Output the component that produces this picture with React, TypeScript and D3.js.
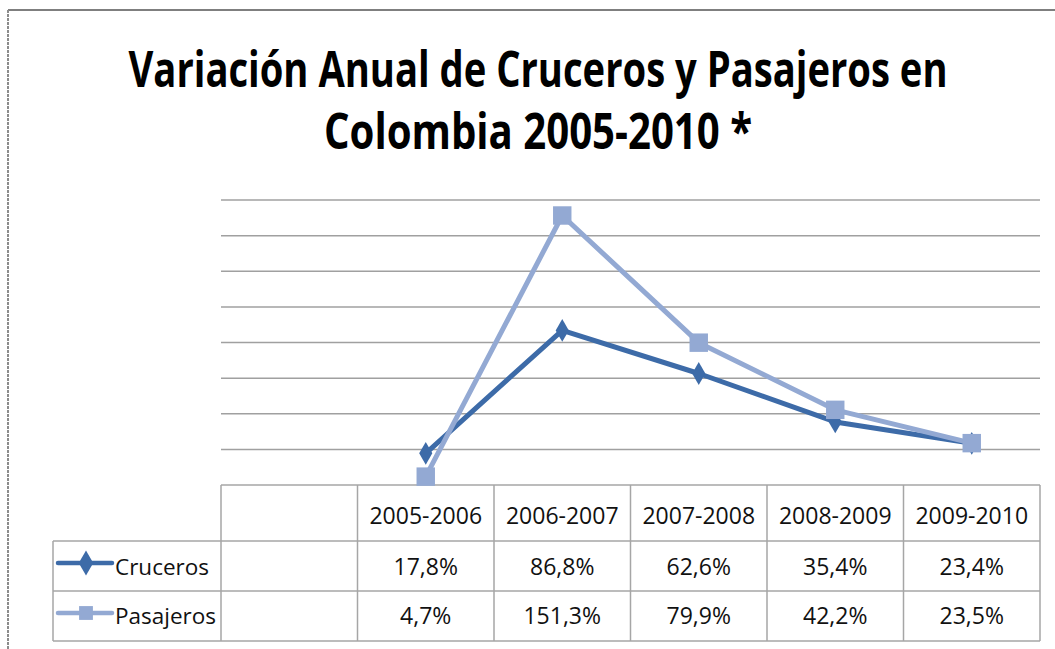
import React from "react";
import * as d3 from "d3";

const W = 1055;
const H = 649;

const titleLines = ["Variación Anual de Cruceros y Pasajeros en", "Colombia 2005-2010 *"];
const categories = ["", "2005-2006", "2006-2007", "2007-2008", "2008-2009", "2009-2010"];
const cruceros: (number | null)[] = [null, 17.8, 86.8, 62.6, 35.4, 23.4];
const pasajeros: (number | null)[] = [null, 4.7, 151.3, 79.9, 42.2, 23.5];
const cruceroLabels = ["", "17,8%", "86,8%", "62,6%", "35,4%", "23,4%"];
const pasajeroLabels = ["", "4,7%", "151,3%", "79,9%", "42,2%", "23,5%"];
const yTicks = [20, 40, 60, 80, 100, 120, 140, 160];

const series = [
  { name: "Cruceros", values: cruceros, labels: cruceroLabels, color: "#3D6BA8", marker: "diamond" },
  { name: "Pasajeros", values: pasajeros, labels: pasajeroLabels, color: "#93A9D3", marker: "square" },
];

const FONT = "'Open Sans', 'Noto Sans', sans-serif";

export default function App() {
  const plotLeft = 221;
  const plotRight = 1040;
  const plotTop = 200;
  const plotBottom = 485;
  const x = d3.scaleBand<string>().domain(categories.map((c, i) => String(i))).range([plotLeft, plotRight]);
  const y = d3.scaleLinear().domain([0, 160]).range([plotBottom, plotTop]);
  const cx = (i: number) => (x(String(i)) as number) + x.bandwidth() / 2;

  const rowTops = [485, 541, 591, 641];
  const rowHeaderLeft = 53;
  const tableStroke = "#A6A6A6";

  const diamond = d3.symbol().type(d3.symbolDiamond);
  const square = d3.symbol().type(d3.symbolSquare);

  const renderMarker = (kind: string, px: number, py: number, color: string, scale = 1, key?: string) => {
    if (kind === "diamond") {
      const p = diamond.size(150 * scale * scale)() as string;
      return <path key={key} d={p} transform={`translate(${px},${py})`} fill={color} />;
    }
    const p = square.size(340 * scale * scale)() as string;
    return <path key={key} d={p} transform={`translate(${px},${py})`} fill={color} />;
  };

  const line = d3
    .line<[number, number | null]>()
    .defined((d) => d[1] !== null)
    .x((d) => cx(d[0]))
    .y((d) => y(d[1] as number));

  return (
    <svg
      width={W}
      height={H}
      style={{ position: "absolute", left: 0, top: 0, display: "block", background: "#fff" }}
    >
      <rect x={0} y={0} width={W} height={H} fill="#fff" />
      {/* frame */}
      <line x1={8} y1={10} x2={W} y2={10} stroke="#7F7F7F" strokeWidth={2} />
      <line x1={8} y1={10} x2={8} y2={H} stroke="#8C8C8C" strokeWidth={2} strokeDasharray="3 1" />

      {/* title */}
      <g transform="translate(538,87) scale(1,1.25)">
        <text x={0} y={0} fontFamily={FONT} fontWeight={700} fontSize={40} textAnchor="middle"
          textLength={819} lengthAdjust="spacingAndGlyphs" fill="#000">
          {titleLines[0]}
        </text>
      </g>
      <g transform="translate(538,149) scale(1,1.25)">
        <text x={0} y={0} fontFamily={FONT} fontWeight={700} fontSize={40} textAnchor="middle"
          textLength={428} lengthAdjust="spacingAndGlyphs" fill="#000">
          {titleLines[1]}
        </text>
      </g>

      {/* gridlines */}
      {yTicks.map((t) => (
        <line key={t} x1={plotLeft} x2={plotRight} y1={y(t)} y2={y(t)} stroke="#A0A0A0" strokeWidth={1.5} />
      ))}

      {/* table */}
      <g>
        <line x1={plotLeft} x2={plotRight} y1={rowTops[0]} y2={rowTops[0]} stroke={tableStroke} strokeWidth={1.5} />
        {rowTops.slice(1).map((ry, i) => (
          <line key={i} x1={rowHeaderLeft} x2={plotRight} y1={ry} y2={ry} stroke={tableStroke} strokeWidth={1.5} />
        ))}
        <line x1={rowHeaderLeft} x2={rowHeaderLeft} y1={rowTops[1]} y2={rowTops[3]} stroke={tableStroke} strokeWidth={1.5} />
        {categories.map((c, i) => (
          <line key={i} x1={x(String(i))} x2={x(String(i))} y1={rowTops[0]} y2={rowTops[3]} stroke={tableStroke} strokeWidth={1.5} />
        ))}
        <line x1={plotRight} x2={plotRight} y1={rowTops[0]} y2={rowTops[3]} stroke={tableStroke} strokeWidth={1.5} />

        {categories.map((c, i) => (
          <text key={"h" + i} x={cx(i)} y={524} textAnchor="middle" fontFamily={FONT} fontSize={23} fill="#111">
            {c}
          </text>
        ))}
        {series.map((s, si) => {
          const base = si === 0 ? 575 : 624;
          const mid = (rowTops[si + 1] + rowTops[si + 2]) / 2;
          return (
            <g key={s.name}>
              <line x1={58} x2={112} y1={mid - 3} y2={mid - 3} stroke={s.color} strokeWidth={4.5} strokeLinecap="round" />
              {renderMarker(s.marker, 86, mid - 3, s.color, s.marker === "diamond" ? 1.1 : 0.75)}
              <text x={115} y={base} fontFamily={FONT} fontSize={22.5} fill="#111">{s.name}</text>
              {s.labels.map((l, i) => (
                <text key={i} x={cx(i)} y={base} textAnchor="middle" fontFamily={FONT} fontSize={23} fill="#111">
                  {l}
                </text>
              ))}
            </g>
          );
        })}
      </g>

      {/* series */}
      {series.map((s) => (
        <g key={s.name}>
          <path
            d={line(s.values.map((v, i) => [i, v] as [number, number | null])) as string}
            fill="none"
            stroke={s.color}
            strokeWidth={5}
            strokeLinejoin="round"
          />
          {s.values.map((v, i) => (v === null ? null : renderMarker(s.marker, cx(i), y(v), s.color, 1, s.name + i)))}
        </g>
      ))}
    </svg>
  );
}
